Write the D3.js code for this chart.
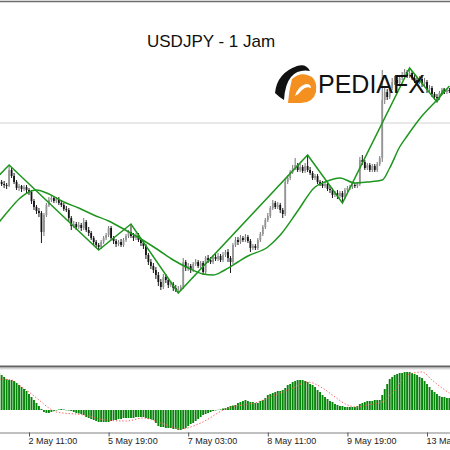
<!DOCTYPE html>
<html>
<head>
<meta charset="utf-8">
<script src="https://cdn.jsdelivr.net/npm/d3@7"></script>
<style>
  body { margin: 0; background: #fff; }
  svg { display: block; }
</style>
</head>
<body>
<script>
// hourly USDJPY bars, oldest first
var barOpen = [
155.20,155.18,155.16,155.15,155.14,155.30,155.24,155.18,155.12,155.14,
155.11,155.13,155.10,155.08,154.99,154.93,154.89,154.87,154.68,154.85,
154.95,155.00,155.02,154.99,155.01,154.97,154.95,154.91,154.90,154.82,
154.74,154.76,154.73,154.75,154.72,154.78,154.70,154.67,154.62,154.58,
154.55,154.53,154.58,154.62,154.65,154.72,154.62,154.59,154.56,154.58,
154.55,154.60,154.64,154.68,154.64,154.62,154.65,154.60,154.57,154.54,
154.45,154.38,154.34,154.30,154.25,154.18,154.13,154.23,154.20,154.15,
154.16,154.12,154.10,154.11,154.13,154.38,154.32,154.34,154.30,154.36,
154.38,154.34,154.37,154.28,154.42,154.40,154.38,154.43,154.41,154.44,
154.40,154.45,154.48,154.42,154.38,154.55,154.60,154.58,154.62,154.60,
154.63,154.59,154.52,154.54,154.52,154.60,154.66,154.73,154.80,154.84,
154.92,154.97,154.93,154.95,154.90,154.86,155.18,155.22,155.28,155.32,
155.35,155.30,155.33,155.29,155.34,155.30,155.27,155.22,155.24,155.18,
155.16,155.14,155.16,155.11,155.10,155.05,155.07,155.04,155.07,155.03,
155.10,155.12,155.13,155.15,155.14,155.16,155.40,155.38,155.32,155.35,
155.30,155.34,155.30,155.36,155.42,156.00,156.08,156.03,156.12,156.18,
156.20,156.17,156.22,156.25,156.28,156.24,156.27,156.22,156.20,156.18,
156.21,156.16,156.18,156.10,156.12,156.06,156.03,156.02,156.07,156.10,
156.08,156.10];

var barHigh = [
155.22,155.20,155.19,155.17,155.35,155.33,155.27,155.20,155.16,155.15,
155.15,155.15,155.12,155.10,155.01,154.95,154.92,154.89,154.87,154.97,
155.03,155.05,155.04,155.03,155.03,155.00,154.97,154.94,154.92,154.84,
154.79,154.78,154.78,154.77,154.82,154.80,154.73,154.69,154.64,154.60,
154.57,154.60,154.64,154.67,154.74,154.74,154.64,154.61,154.60,154.61,
154.62,154.66,154.70,154.76,154.67,154.67,154.67,154.62,154.59,154.56,
154.47,154.41,154.37,154.33,154.28,154.21,154.26,154.26,154.22,154.19,
154.18,154.15,154.14,154.15,154.42,154.40,154.37,154.36,154.38,154.41,
154.40,154.39,154.39,154.44,154.45,154.43,154.45,154.46,154.47,154.46,
154.48,154.50,154.51,154.44,154.57,154.63,154.63,154.65,154.64,154.66,
154.65,154.61,154.56,154.56,154.62,154.68,154.75,154.82,154.87,154.94,
155.00,154.99,154.98,154.97,154.92,155.22,155.25,155.30,155.35,155.42,
155.37,155.36,155.35,155.37,155.45,155.33,155.29,155.26,155.26,155.20,
155.19,155.18,155.18,155.14,155.12,155.09,155.10,155.09,155.09,155.12,
155.14,155.15,155.17,155.17,155.18,155.43,155.45,155.40,155.37,155.37,
155.36,155.36,155.38,155.44,156.30,156.12,156.11,156.15,156.22,156.24,
156.23,156.25,156.28,156.31,156.30,156.32,156.29,156.25,156.23,156.24,
156.23,156.22,156.20,156.15,156.14,156.08,156.06,156.09,156.12,156.12,
156.11,156.12];

var barLow = [
155.15,155.14,155.12,155.11,155.13,155.22,155.16,155.10,155.09,155.08,
155.09,155.07,155.05,154.96,154.90,154.86,154.83,154.57,154.64,154.83,
154.93,154.98,154.97,154.97,154.95,154.93,154.89,154.88,154.79,154.70,
154.72,154.70,154.71,154.69,154.70,154.68,154.64,154.60,154.55,154.52,
154.50,154.51,154.56,154.60,154.63,154.60,154.56,154.53,154.54,154.53,
154.53,154.58,154.62,154.62,154.59,154.60,154.58,154.54,154.51,154.41,
154.35,154.31,154.27,154.21,154.14,154.10,154.11,154.17,154.12,154.13,
154.09,154.08,154.07,154.09,154.11,154.29,154.29,154.27,154.28,154.34,
154.32,154.32,154.25,154.26,154.37,154.36,154.36,154.39,154.39,154.38,
154.38,154.43,154.38,154.27,154.36,154.53,154.55,154.56,154.58,154.58,
154.57,154.48,154.50,154.50,154.50,154.58,154.64,154.71,154.78,154.82,
154.90,154.91,154.91,154.87,154.82,154.84,155.16,155.20,155.26,155.30,
155.28,155.28,155.27,155.27,155.28,155.25,155.20,155.20,155.16,155.14,
155.12,155.12,155.09,155.07,155.02,155.03,155.01,155.02,154.97,155.01,
155.08,155.10,155.11,155.12,155.12,155.14,155.35,155.30,155.30,155.28,
155.28,155.28,155.28,155.34,155.38,155.96,156.00,156.01,156.10,156.15,
156.14,156.15,156.20,156.23,156.22,156.22,156.20,156.17,156.15,156.16,
156.13,156.14,156.07,156.08,156.03,156.00,155.98,156.00,156.05,156.06,
156.06,156.07];

var barClose = [
155.18,155.16,155.15,155.14,155.30,155.24,155.18,155.12,155.14,155.11,
155.13,155.10,155.08,154.99,154.93,154.89,154.87,154.68,154.85,154.95,
155.00,155.02,154.99,155.01,154.97,154.95,154.91,154.90,154.82,154.74,
154.76,154.73,154.75,154.72,154.78,154.70,154.67,154.62,154.58,154.55,
154.53,154.58,154.62,154.65,154.72,154.62,154.59,154.56,154.58,154.55,
154.60,154.64,154.68,154.64,154.62,154.65,154.60,154.57,154.54,154.45,
154.38,154.34,154.30,154.25,154.18,154.13,154.23,154.20,154.15,154.16,
154.12,154.10,154.11,154.13,154.38,154.32,154.34,154.30,154.36,154.38,
154.34,154.37,154.28,154.42,154.40,154.38,154.43,154.41,154.44,154.40,
154.45,154.48,154.42,154.38,154.55,154.60,154.58,154.62,154.60,154.63,
154.59,154.52,154.54,154.52,154.60,154.66,154.73,154.80,154.84,154.92,
154.97,154.93,154.95,154.90,154.86,155.18,155.22,155.28,155.32,155.35,
155.30,155.33,155.29,155.34,155.30,155.27,155.22,155.24,155.18,155.16,
155.14,155.16,155.11,155.10,155.05,155.07,155.04,155.07,155.03,155.10,
155.12,155.13,155.15,155.14,155.16,155.40,155.38,155.32,155.35,155.30,
155.34,155.30,155.36,155.42,156.00,156.08,156.03,156.12,156.18,156.20,
156.17,156.22,156.25,156.28,156.24,156.27,156.22,156.20,156.18,156.21,
156.16,156.18,156.10,156.12,156.06,156.03,156.02,156.07,156.10,156.08,
156.10,156.09];

// moving average (bar index / value)
var maIdx = [0,4,8,13,15,20,26,32,38,44,50,57,64,70,76,82,86,90,96,100,108,113,120,127,131,137,143,148,154,157,161,164,169,176,181];
var maVal = [154.78,154.90,155.01,155.09,155.10,155.06,154.98,154.92,154.85,154.79,154.71,154.61,154.50,154.40,154.32,154.26,154.25,154.29,154.38,154.44,154.53,154.65,154.89,155.13,155.18,155.22,155.17,155.18,155.20,155.32,155.53,155.64,155.81,156.00,156.14];

// zigzag pivots
var zzIdx = [-5,4,40,53,72,124,138,165,176,179];
var zzVal = [155.12,155.35,154.50,154.76,154.07,155.45,154.97,156.32,155.98,156.12];

var hLevel = 155.77;

// MACD histogram, one per bar
var macdHist = [
0.37,0.35,0.33,0.31,0.30,0.30,0.29,0.27,0.25,0.23,
0.21,0.19,0.16,0.13,0.10,0.07,0.04,0.01,-0.02,-0.03,
-0.03,-0.02,-0.01,-0.005,0.005,0.01,0.005,-0.003,-0.005,-0.01,
-0.02,-0.03,-0.035,-0.04,-0.05,-0.07,-0.08,-0.09,-0.10,-0.11,
-0.12,-0.12,-0.12,-0.12,-0.12,-0.11,-0.10,-0.10,-0.09,-0.09,
-0.08,-0.08,-0.08,-0.08,-0.08,-0.07,-0.07,-0.07,-0.07,-0.08,
-0.09,-0.09,-0.10,-0.13,-0.16,-0.17,-0.17,-0.18,-0.18,-0.18,
-0.19,-0.19,-0.20,-0.20,-0.19,-0.18,-0.16,-0.14,-0.13,-0.11,
-0.09,-0.07,-0.05,-0.04,-0.03,-0.02,-0.01,-0.005,0.002,0.005,
0.015,0.02,0.03,0.04,0.045,0.05,0.07,0.08,0.09,0.10,
0.09,0.08,0.08,0.07,0.07,0.09,0.10,0.12,0.15,0.16,
0.17,0.18,0.19,0.19,0.20,0.22,0.25,0.26,0.28,0.29,
0.30,0.30,0.30,0.29,0.28,0.26,0.25,0.23,0.20,0.18,
0.15,0.13,0.11,0.09,0.08,0.06,0.05,0.04,0.04,0.03,
0.03,0.03,0.03,0.03,0.04,0.06,0.07,0.08,0.09,0.09,
0.09,0.10,0.10,0.10,0.15,0.21,0.26,0.31,0.33,0.35,
0.36,0.37,0.37,0.38,0.38,0.38,0.37,0.36,0.35,0.33,
0.32,0.29,0.26,0.23,0.20,0.18,0.16,0.14,0.13,0.13,
0.12,0.12];

// MACD signal line
var sigIdx = [0,5,8,12,16,20,23,34,43,51,58,65,73,81,91,104,111,118,124,130,135,140,144,148,154,159,164,170,174,178,181];
var sigVal = [0.31,0.30,0.25,0.18,0.10,0.02,-0.02,-0.05,-0.10,-0.11,-0.08,-0.13,-0.19,-0.13,0.01,0.08,0.15,0.22,0.28,0.22,0.13,0.05,0.03,0.05,0.08,0.20,0.35,0.38,0.30,0.22,0.17];

var tickIdx = [12,44,76,108,140,172];
var tickLabels = ["2 May 11:00","5 May 19:00","7 May 03:00","8 May 11:00","9 May 19:00","13 May 03:00"];

var title = "USDJPY - 1 Jam";

var width = 450, height = 450;

var x = d3.scaleLinear().domain([0, 181]).range([-0.85, 449.4]);
var y = d3.scaleLinear().domain([153.35, 156.97]).range([365, 3]);
var ym = d3.scaleLinear().domain([-0.22, 0.41]).range([432, 369]);

var svg = d3.select("body").append("svg")
    .attr("width", width)
    .attr("height", height);

var defs = svg.append("defs");
defs.append("clipPath").attr("id", "clipMain")
  .append("rect").attr("x", 0).attr("y", 3).attr("width", width).attr("height", 362);
defs.append("clipPath").attr("id", "clipMacd")
  .append("rect").attr("x", 0).attr("y", 369).attr("width", width).attr("height", 63);

// frame lines
svg.append("line").attr("x1", 0).attr("x2", width).attr("y1", 1.5).attr("y2", 1.5)
    .attr("stroke", "#6e6e6e").attr("stroke-width", 1.5);
svg.append("line").attr("x1", 0).attr("x2", width).attr("y1", 366.5).attr("y2", 366.5)
    .attr("stroke", "#626262").attr("stroke-width", 2);
svg.append("line").attr("x1", 0).attr("x2", width).attr("y1", 368.8).attr("y2", 368.8)
    .attr("stroke", "#c4c4c4").attr("stroke-width", 1);

var main = svg.append("g").attr("clip-path", "url(#clipMain)");

// horizontal level
main.append("line")
    .attr("x1", 0).attr("x2", width)
    .attr("y1", y(hLevel)).attr("y2", y(hLevel))
    .attr("stroke", "#d2d2d2").attr("stroke-width", 1);

// title
svg.append("text")
    .attr("x", 147).attr("y", 47)
    .style("font-family", "'Liberation Sans', Arial, sans-serif")
    .style("font-size", "17px")
    .attr("fill", "#111")
    .text(title);

// candles
var bars = d3.range(barClose.length);
var candle = main.selectAll(".candle").data(bars).enter().append("g").attr("class", "candle");

candle.append("line")
    .attr("x1", function(i) { return x(i); })
    .attr("x2", function(i) { return x(i); })
    .attr("y1", function(i) { return y(barHigh[i]); })
    .attr("y2", function(i) { return y(barLow[i]); })
    .attr("stroke", function(i) { return barClose[i] >= barOpen[i] ? "#777" : "#1a1a1a"; })
    .attr("stroke-width", 1);

candle.append("rect")
    .attr("x", function(i) { return x(i) - 0.9; })
    .attr("width", 1.8)
    .attr("y", function(i) { return y(Math.max(barOpen[i], barClose[i])); })
    .attr("height", function(i) { return Math.max(0.8, Math.abs(y(barOpen[i]) - y(barClose[i]))); })
    .attr("fill", function(i) { return barClose[i] >= barOpen[i] ? "#949494" : "#141414"; });

// moving average and zigzag
var maLine = d3.line()
    .x(function(d) { return x(d[0]); })
    .y(function(d) { return y(d[1]); })
    .curve(d3.curveMonotoneX);

main.append("path")
    .datum(d3.zip(maIdx, maVal))
    .attr("d", maLine)
    .attr("fill", "none")
    .attr("stroke", "#1e961e")
    .attr("stroke-width", 1.5);

var zzLine = d3.line()
    .x(function(d) { return x(d[0]); })
    .y(function(d) { return y(d[1]); });

main.append("path")
    .datum(d3.zip(zzIdx, zzVal))
    .attr("d", zzLine)
    .attr("fill", "none")
    .attr("stroke", "#1e961e")
    .attr("stroke-width", 1.5);

// MACD panel
var macd = svg.append("g").attr("clip-path", "url(#clipMacd)");

macd.selectAll(".hist").data(bars).enter().append("rect")
    .attr("class", "hist")
    .attr("x", function(i) { return x(i) - 0.95; })
    .attr("width", 1.9)
    .attr("y", function(i) { return Math.min(ym(macdHist[i]), ym(0)); })
    .attr("height", function(i) { return Math.abs(ym(macdHist[i]) - ym(0)); })
    .attr("fill", "#07850a");

var sigLine = d3.line()
    .x(function(d) { return x(d[0]); })
    .y(function(d) { return ym(d[1]); })
    .curve(d3.curveMonotoneX);

macd.append("path")
    .datum(d3.zip(sigIdx, sigVal))
    .attr("d", sigLine)
    .attr("fill", "none")
    .attr("stroke", "#ff5a5a")
    .attr("stroke-width", 1)
    .attr("stroke-dasharray", "1.3,1.9");

// time axis
var xAxis = d3.axisBottom(x)
    .tickValues(tickIdx)
    .tickFormat(function(d, i) { return tickLabels[i]; })
    .tickSize(4)
    .tickSizeOuter(0);

var gx = svg.append("g")
    .attr("transform", "translate(0,432.5)")
    .call(xAxis);

gx.select(".domain").attr("stroke", "#808080");
gx.selectAll(".tick line").attr("stroke", "#555");
gx.selectAll(".tick text")
    .attr("text-anchor", "start")
    .attr("x", -1)
    .attr("y", 5)
    .style("font-family", "'Liberation Sans', Arial, sans-serif")
    .style("font-size", "9px")
    .attr("fill", "#222");

// logo
var logo = svg.append("g");
logo.append("path")
    .attr("d", "M292,79 Q302,70 313,78 Q317,82 316,92 Q313,103 301,103 L288,103 Q289,90 292,79 Z")
    .attr("fill", "#f39020");
logo.append("path")
    .attr("d", "M295,96 Q298,86 306,84 Q311,84 311,88 Q306,86 302,90 Q299,94 295,96 Z")
    .attr("fill", "#fff");
logo.append("path")
    .attr("d", "M275,93 Q277,73 297,66 Q306,63 310,71 Q298,69 291,77 Q285,84 284,100 Q279,97 275,93 Z")
    .attr("fill", "#111");
logo.append("text")
    .attr("x", 318).attr("y", 93)
    .style("font-family", "'Liberation Sans', Arial, sans-serif")
    .style("font-size", "25px")
    .attr("fill", "#111")
    .text("PEDIAFX");
</script>
</body>
</html>
